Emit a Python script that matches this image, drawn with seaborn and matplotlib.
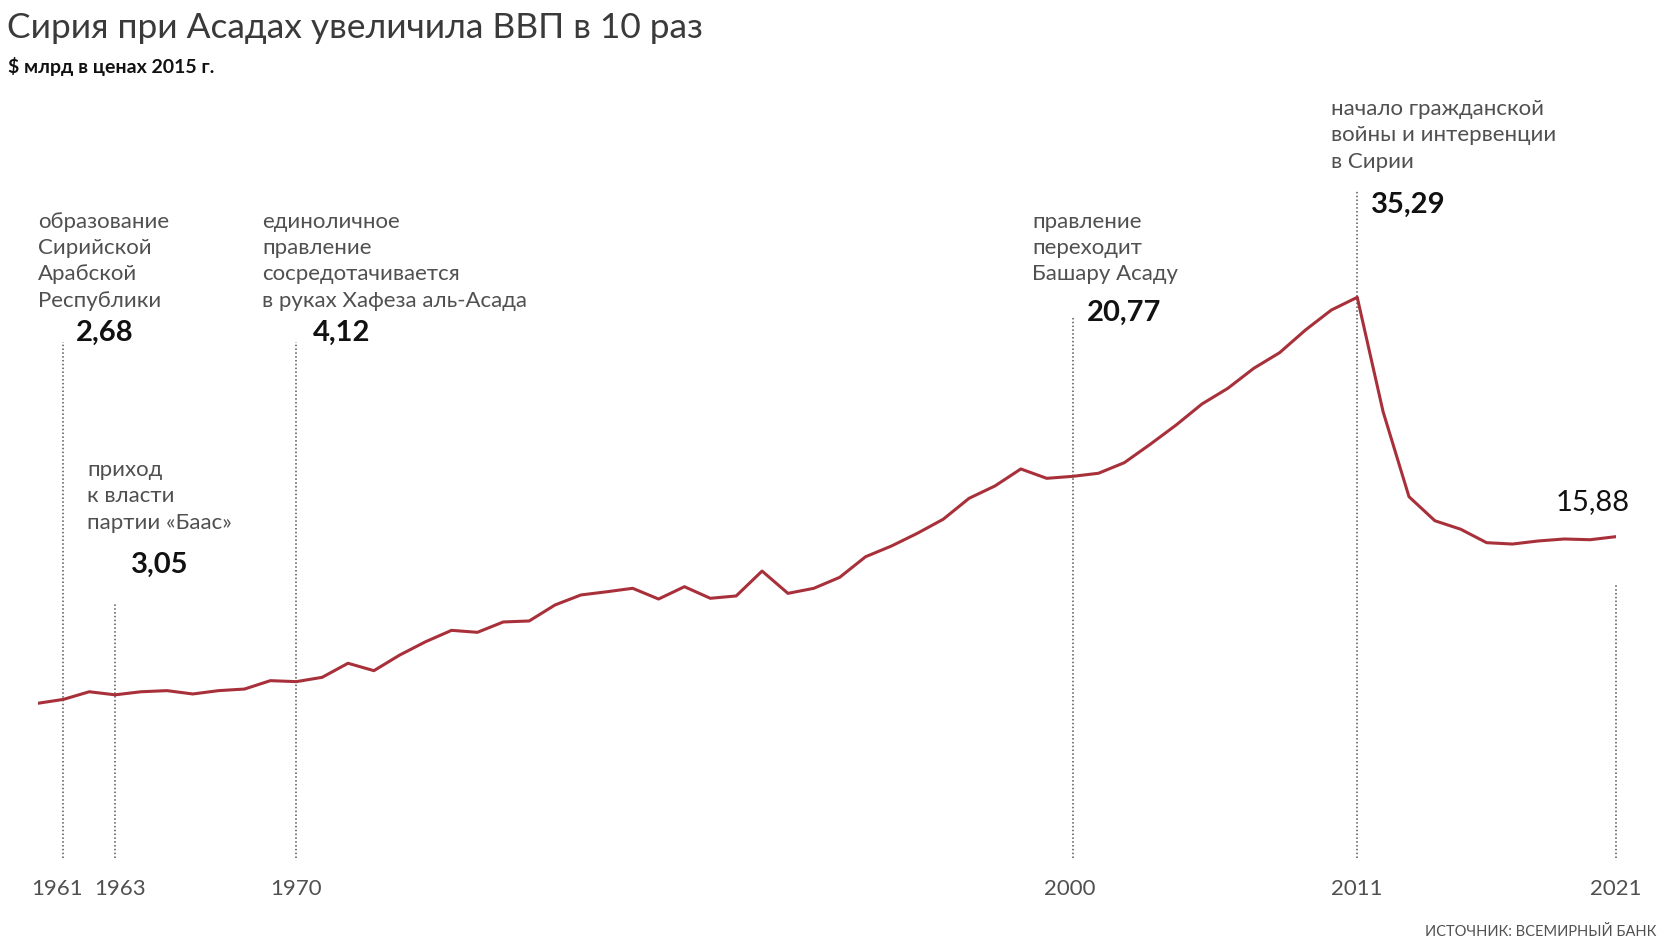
import matplotlib
matplotlib.use("Agg")
import matplotlib.pyplot as plt
from matplotlib.transforms import ScaledTranslation
import seaborn as sns
import pandas as pd

# ---------------- data ----------------
years = list(range(1960, 2022))
gdp = [2.36, 2.68, 3.30, 3.05, 3.30, 3.39, 3.12, 3.39, 3.52, 4.20,
       4.12, 4.47, 5.61, 5.01, 6.28, 7.36, 8.28, 8.12, 8.96, 9.04,
       10.34, 11.15, 11.41, 11.69, 10.82, 11.82, 10.88, 11.07, 13.09, 11.28,
       11.69, 12.58, 14.25, 15.12, 16.15, 17.29, 18.99, 19.99, 21.37, 20.61,
       20.77, 21.02, 21.88, 23.37, 24.93, 26.64, 27.91, 29.53, 30.80, 32.64,
       34.26, 35.29, 26.01, 19.12, 17.17, 16.48, 15.39, 15.28, 15.53, 15.69,
       15.63, 15.88]

event_years = [1961, 1963, 1970, 2000, 2011, 2021]
event_labels = ["2,68", "3,05", "4,12", "20,77", "35,29", "15,88"]
event_texts = [
    ["образование", "Сирийской", "Арабской", "Республики"],
    ["приход", "к власти", "партии «Баас»"],
    ["единоличное", "правление", "сосредотачивается", "в руках Хафеза аль-Асада"],
    ["правление", "переходит", "Башару Асаду"],
    ["начало гражданской", "войны и интервенции", "в Сирии"],
    [],
]
tick_labels = ["1961", "1963", "1970", "2000", "2011", "2021"]

title = "Сирия при Асадах увеличила ВВП в 10 раз"
subtitle = "$ млрд в ценах 2015 г."
source = "ИСТОЧНИК: ВСЕМИРНЫЙ БАНК"

# ---------------- layout / style ----------------
W, H = 1672, 950
line_tops = [31.7, 10.5, 31.7, 33.7, 44.0, 12.1]          # dotted line heights (data units)
text_pos = [(38, 221.7), (87, 470), (262, 221.7), (1032, 221.7), (1331, 108.8), None]
num_pos = [(76, 333.3), (131, 565), (313, 333.3), (1087, 312.7), (1371, 204.7), (1556, 501.7)]
num_weight = ["bold", "bold", "bold", "bold", "bold", "normal"]
tick_dx = [-6, 5, 0, -3, 0, 0]   # px nudges of tick labels
LINE_STEP = 26.4
RED = "#a8303a"
GREY = "#505050"

sns.set_theme(style="white")
plt.rcParams["font.family"] = ["Lato", "DejaVu Sans"]

df = pd.DataFrame({"year": years, "gdp": gdp})

fig = plt.figure(figsize=(W / 100, H / 100), dpi=100)
fig.patch.set_facecolor("white")
ax = fig.add_axes([37.5 / W, 1 - 858.2 / H, (1616 - 37.5) / W, (858.2 - 91.3) / H])

sns.lineplot(data=df, x="year", y="gdp", ax=ax, color=RED, linewidth=2.2)

for yr, top in zip(event_years, line_tops):
    ax.plot([yr, yr], [-10.2, top], color="#555555", linewidth=1.1,
            linestyle=(0, (1, 1.5)), zorder=1, clip_on=False)

ax.set_xlim(1960, 2021)
ax.set_ylim(-10.2, 52)
ax.set_xlabel("")
ax.set_ylabel("")
ax.set_yticks([])
ax.set_xticks(event_years)
ax.set_xticklabels(tick_labels, fontsize=16, color=GREY, fontweight="normal")
ax.tick_params(axis="x", length=0, pad=15)
for lab, dx in zip(ax.get_xticklabels(), tick_dx):
    lab.set_transform(lab.get_transform() + ScaledTranslation(dx / 100, 0, fig.dpi_scale_trans))
for s in ax.spines.values():
    s.set_visible(False)
ax.set_facecolor("white")


def fx(px):
    return px / W


def fy(py):
    return 1 - py / H


fig.text(fx(7), fy(28), title, fontsize=25.5, fontweight="normal", color="#3a3a3a",
         ha="left", va="center")
fig.text(fx(8), fy(66), subtitle, fontsize=14, fontweight="bold", color="#111111",
         ha="left", va="center")
fig.text(fx(1656), fy(932), source, fontsize=10.5, fontweight="normal", color="#505050",
         ha="right", va="center")

for lines, pos in zip(event_texts, text_pos):
    if pos is None:
        continue
    x0, y0 = pos
    for i, ln in enumerate(lines):
        fig.text(fx(x0), fy(y0 + i * LINE_STEP), ln, fontsize=16, fontweight="normal",
                 color=GREY, ha="left", va="center")

for lab, (x0, y0), wgt in zip(event_labels, num_pos, num_weight):
    fig.text(fx(x0), fy(y0), lab, fontsize=21, fontweight=wgt, color="#111111",
             ha="left", va="center")

fig.savefig("out.png", dpi=100, facecolor="white")
